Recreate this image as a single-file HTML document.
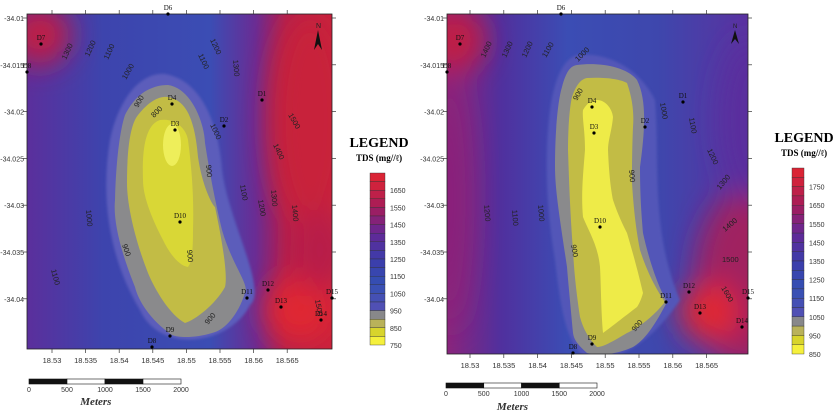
<!DOCTYPE html>
<html><head><meta charset="utf-8"><style>
html,body{margin:0;padding:0;background:#fff;}
svg{display:block;font-family:"Liberation Sans",sans-serif;}
.ser{font-family:"Liberation Serif",serif;}
</style></head><body>
<svg id="root" width="833" height="412" viewBox="0 0 833 412">
<defs>
<filter id="bl" x="-50%" y="-50%" width="200%" height="200%"><feGaussianBlur stdDeviation="14"/></filter>
<filter id="bs" x="-50%" y="-50%" width="200%" height="200%"><feGaussianBlur stdDeviation="1.2"/></filter>
<clipPath id="cl"><rect x="27" y="14" width="305" height="335"/></clipPath>
<clipPath id="cr"><rect x="447" y="14" width="301" height="340"/></clipPath>
<linearGradient id="gl" x1="0" x2="1" y1="0" y2="0">
<stop offset="0" stop-color="#5b2f9c"/><stop offset="0.25" stop-color="#3d44ad"/><stop offset="0.6" stop-color="#3b4db4"/><stop offset="0.75" stop-color="#6a2c94"/><stop offset="0.85" stop-color="#b01f4e"/><stop offset="1" stop-color="#c8203c"/>
</linearGradient>
<linearGradient id="gr" x1="0" x2="1" y1="0" y2="0">
<stop offset="0" stop-color="#8a257c"/><stop offset="0.18" stop-color="#50309e"/><stop offset="0.4" stop-color="#3b4db4"/><stop offset="0.7" stop-color="#3e47ad"/><stop offset="1" stop-color="#5a32a0"/>
</linearGradient>
</defs>

<g>
<g clip-path="url(#cl)">
<rect x="27" y="14" width="305" height="335" fill="url(#gl)"/>
<g filter="url(#bl)">
<ellipse cx="40" cy="35" rx="30" ry="30" fill="#c01f45"/>
<ellipse cx="310" cy="120" rx="40" ry="110" fill="#c8203a"/>
<ellipse cx="300" cy="310" rx="35" ry="35" fill="#e02530"/>
<ellipse cx="320" cy="250" rx="30" ry="40" fill="#b81f48"/>
</g>
<path d="M165,74 C200,80 218,120 222,170 C228,220 268,290 250,305 C230,345 160,355 140,310 C110,260 100,200 110,140 C118,100 140,72 165,74Z" fill="#5c5dbb" filter="url(#bs)"/>
<path d="M168,85 C190,88 204,120 205,143 C210,175 215,200 222,230 C232,265 250,285 245,293 C238,315 225,330 212,333 C195,338 180,338 172,335 C150,320 138,300 135,287 C120,250 113,220 115,200 C116,160 120,130 125,115 C135,95 150,85 168,85Z" fill="#8a8a8c"/>
<path d="M168,97 C182,100 194,110 198,157 C202,185 212,205 215,207 C222,240 228,275 225,287 C215,305 195,320 185,323 C170,315 155,290 148,273 C135,240 127,205 127,183 C127,150 130,125 138,115 C150,100 160,96 168,97Z" fill="#c2bc45"/>
<path d="M160,120 C175,118 186,128 188,140 C192,170 194,200 193,230 C193,250 192,262 188,267 C180,266 170,255 163,240 C150,215 143,195 143,180 C142,150 145,125 160,120Z" fill="#d9d736"/>
<ellipse cx="172" cy="145" rx="9" ry="21" fill="#eeee5a"/>
</g>
<rect x="27" y="14" width="305" height="335" fill="none" stroke="#222" stroke-width="0.8"/>
<g id="lticks"></g>
<g font-size="7.5" fill="#222">
<text transform="translate(66,60) rotate(-65)">1300</text>
<text transform="translate(89,57) rotate(-65)">1200</text>
<text transform="translate(108,60) rotate(-65)">1100</text>
<text transform="translate(126,80) rotate(-60)">1000</text>
<text transform="translate(138,108) rotate(-60)">900</text>
<text transform="translate(154,118) rotate(-45)">800</text>
<text transform="translate(210,40) rotate(65)">1200</text>
<text transform="translate(198,55) rotate(65)">1100</text>
<text transform="translate(233,60) rotate(85)">1300</text>
<text transform="translate(210,125) rotate(65)">1000</text>
<text transform="translate(206,165) rotate(85)">900</text>
<text transform="translate(288,115) rotate(60)">1500</text>
<text transform="translate(273,145) rotate(65)">1400</text>
<text transform="translate(240,185) rotate(80)">1100</text>
<text transform="translate(258,200) rotate(80)">1200</text>
<text transform="translate(271,190) rotate(85)">1300</text>
<text transform="translate(292,205) rotate(85)">1400</text>
<text transform="translate(187,250) rotate(85)">900</text>
<text transform="translate(86,210) rotate(85)">1000</text>
<text transform="translate(122,245) rotate(70)">900</text>
<text transform="translate(51,270) rotate(75)">1100</text>
<text transform="translate(208,325) rotate(-50)">900</text>
<text transform="translate(315,300) rotate(80)">1500</text>
</g>
<g><text x="316" y="28" font-size="7" fill="#222">N</text><path d="M318,30 L314,50 L318,44 L322,50Z" fill="#111"/></g>
</g>

<g>
<g clip-path="url(#cr)">
<rect x="447" y="14" width="301" height="340" fill="url(#gr)"/>
<g filter="url(#bl)">
<ellipse cx="455" cy="40" rx="30" ry="32" fill="#c01f45"/>
<ellipse cx="450" cy="200" rx="20" ry="130" fill="#8a237a"/>
<ellipse cx="745" cy="280" rx="50" ry="90" fill="#a02060"/>
<ellipse cx="710" cy="312" rx="30" ry="30" fill="#e02530"/>
<ellipse cx="750" cy="120" rx="30" ry="80" fill="#5a2f9e"/>
</g>
<path d="M577,55 C610,52 640,70 655,100 C660,160 650,230 680,300 C660,330 630,360 590,360 C565,350 560,300 555,260 C545,200 545,150 550,110 C555,75 565,58 577,55Z" fill="#5257b8" filter="url(#bs)"/>
<path d="M577,65 C600,62 627,67 637,80 C647,100 645,130 640,167 C640,200 642,220 643,233 C650,265 660,290 667,302 C655,325 645,340 633,347 C615,355 598,356 587,353 C578,345 574,340 573,333 C570,300 568,280 567,267 C560,220 555,190 555,167 C555,130 558,100 562,87 C566,72 570,66 577,65Z" fill="#8a8a8c"/>
<path d="M587,78 C605,77 620,79 627,83 C633,100 634,115 633,127 C632,150 632,170 632,183 C634,215 637,235 640,250 C648,275 658,292 665,302 C652,318 638,328 627,333 C612,342 603,347 597,347 C588,338 583,328 580,317 C576,290 574,270 573,250 C570,210 569,180 568,150 C568,125 570,105 572,97 C576,85 581,79 587,78Z" fill="#c2bc45"/>
<path d="M583,110 C588,102 592,100 597,100 C605,100 612,108 613,117 C612,130 608,140 608,150 C609,175 611,190 613,200 C618,215 623,225 627,233 C635,260 640,280 643,293 C641,300 639,304 637,307 C620,320 610,328 603,333 C601,310 601,285 600,267 C598,245 588,230 583,217 C581,195 583,175 585,150 C585,130 582,118 583,110Z" fill="#eeeb48"/>
</g>
<rect x="447" y="14" width="301" height="340" fill="none" stroke="#222" stroke-width="0.8"/>
<g id="rticks"></g>
<g font-size="7.5" fill="#222">
<text transform="translate(485,58) rotate(-65)">1400</text>
<text transform="translate(506,58) rotate(-65)">1300</text>
<text transform="translate(526,58) rotate(-65)">1200</text>
<text transform="translate(546,58) rotate(-60)">1100</text>
<text transform="translate(578,62) rotate(-45)">1000</text>
<text transform="translate(577,101) rotate(-60)">900</text>
<text transform="translate(660,103) rotate(80)">1000</text>
<text transform="translate(689,118) rotate(80)">1100</text>
<text transform="translate(707,150) rotate(65)">1200</text>
<text transform="translate(720,190) rotate(-50)">1300</text>
<text transform="translate(725,232) rotate(-40)">1400</text>
<text transform="translate(722,262)">1500</text>
<text transform="translate(721,288) rotate(60)">1600</text>
<text transform="translate(629,170) rotate(85)">900</text>
<text transform="translate(538,205) rotate(85)">1000</text>
<text transform="translate(512,210) rotate(85)">1100</text>
<text transform="translate(484,205) rotate(85)">1200</text>
<text transform="translate(571,245) rotate(80)">900</text>
<text transform="translate(635,332) rotate(-50)">900</text>
</g>
<g><text x="733" y="28" font-size="6" fill="#222">N</text><path d="M735,30 L731,44 L735,39 L739,44Z" fill="#111"/></g>
</g>

<g id="wells"></g>
<g id="legends"></g>
<g id="scales"></g>
</svg>
<script>
const NS='http://www.w3.org/2000/svg';
const xTicks=[18.53,18.535,18.54,18.545,18.55,18.555,18.56,18.565];
const xTickLabels=['18.53','18.535','18.54','18.545','18.55','18.555','18.56','18.565'];
const yTicks=[-34.01,-34.015,-34.02,-34.025,-34.03,-34.035,-34.04];
const yTickLabels=['-34.01','-34.015','-34.02','-34.025','-34.03','-34.035','-34.04'];
const wellNames=['D7','D6','D8','D4','D3','D1','D2','D10','D12','D11','D13','D15','D14','D9','D8'];
const leftWellX=[41,168,27,172,175,262,224,180,268,247,281,332,321,170,152];
const leftWellY=[44,14,72,104,130,100,126,222,290,298,307,298,320,336,347];
const rightWellX=[460,561,447,592,594,683,645,600,689,666,700,748,742,592,573];
const rightWellY=[44,14,72,107,133,102,127,227,292,302,313,298,327,344,353];
const leftLevels=[1700,1650,1600,1550,1500,1450,1400,1350,1300,1250,1200,1150,1100,1050,1000,950,900,850,800,750];
const leftLegendLabels=[1650,1550,1450,1350,1250,1150,1050,950,850,750];
const rightLevels=[1800,1750,1700,1650,1600,1550,1500,1450,1400,1350,1300,1250,1200,1150,1100,1050,1000,950,900,850];
const rightLegendLabels=[1750,1650,1550,1450,1350,1250,1150,1050,950,850];
const scaleLabels=[0,500,1000,1500,2000];

function mk(tag,attrs,parent){const e=document.createElementNS(NS,tag);for(const k in attrs)e.setAttribute(k,attrs[k]);parent.appendChild(e);return e;}
function axes(gid,fx,x0,y0,x1,y1,stepX,stepY){
 const g=document.getElementById(gid);
 const sx=v=>x0+(v-18.53)/0.005*stepX;
 const sy=v=>y0+(-34.01-v)/0.005*stepY;
 xTicks.forEach((v,i)=>{const x=sx(v);
  const t=mk('line',{x1:x,x2:x,y1:y1,y2:y1+4,stroke:'#333','stroke-width':0.7},g);
  
  mk('line',{x1:x,x2:x,y1:14,y2:10,stroke:'#333','stroke-width':0.7},g);
  const l=mk('text',{x:x,y:y1+14,'font-size':7.5,'text-anchor':'middle',fill:'#333'},g);l.textContent=xTickLabels[i];
  });
 yTicks.forEach((v,i)=>{const y=sy(v);
  mk('line',{x1:fx-4,x2:fx,y1:y,y2:y,stroke:'#333','stroke-width':0.7},g);
  mk('line',{x1:x1,x2:x1+4,y1:y,y2:y,stroke:'#333','stroke-width':0.7},g);
  const l=mk('text',{x:fx-3,y:y+3,'font-size':7,'text-anchor':'end',fill:'#333'},g);l.textContent=yTickLabels[i];
  });
}
axes('lticks',27,52,18,332,349,33.6,46.8);
axes('rticks',447,470,18,748,354,33.8,46.8);

const wg=document.getElementById('wells');
function wells(xs,ys){xs.forEach((x,i)=>{const y=ys[i];
 const c=mk('circle',{cx:x,cy:y,r:1.6,fill:'#000'},wg);
 
 const t=mk('text',{x:x,y:y-4,'font-size':7,'text-anchor':'middle',fill:'#111',class:'ser'},wg);t.textContent=wellNames[i];
 });}
wells(leftWellX,leftWellY);wells(rightWellX,rightWellY);

function col(v){
 const stops=[[725,[245,240,60]],[775,[216,212,44]],[825,[185,178,90]],[875,[136,136,138]],[925,[80,80,180]],[1050,[52,80,180]],[1200,[60,60,170]],[1350,[100,40,150]],[1500,[165,28,90]],[1650,[215,35,55]],[1800,[235,40,40]]];
 for(let i=0;i<stops.length-1;i++){const a=stops[i],b=stops[i+1];if(v<=b[0]){const t=Math.max(0,(v-a[0])/(b[0]-a[0]));return 'rgb('+a[1].map((c,j)=>Math.round(c+(b[1][j]-c)*t)).join(',')+')';}}
 return 'rgb(235,40,40)';}
const lg=document.getElementById('legends');
function legend(x,y0,y1,w,levels,labels,tx,ty,name,shift){
 const g=mk('g',{},lg);
 const h=(y1-y0)/levels.length;
 levels.forEach((v,i)=>{const r=mk('rect',{x:x,y:y0+i*h,width:w,height:h,fill:col(v-25-shift),stroke:'#333','stroke-width':0.4},g);
  });
 labels.forEach(v=>{const i=levels.indexOf(v);const t=mk('text',{x:x+w+5,y:y0+(i+1)*h+3,'font-size':7,fill:'#333'},g);t.textContent=v;
  });
 const a=mk('text',{x:tx,y:ty,'font-size':14,'font-weight':'bold','text-anchor':'middle',class:'ser'},g);a.textContent='LEGEND';
 
 const b=mk('text',{x:tx,y:ty+14,'font-size':9,'font-weight':'bold','text-anchor':'middle',class:'ser'},g);b.textContent='TDS (mg//ℓ)';
 }
legend(370,173,345,15,leftLevels,leftLegendLabels,379,147,'left-legend',0);
legend(792,168,354,12,rightLevels,rightLegendLabels,804,142,'right-legend',100);

const sg=document.getElementById('scales');
function scale(x0,w,y,name,my){
 const g=mk('g',{},sg);
 const seg=w/4;
 for(let i=0;i<4;i++){mk('rect',{x:x0+i*seg,y:y,width:seg,height:5,fill:i%2?'#fff':'#111',stroke:'#111','stroke-width':0.6},g);}
 scaleLabels.forEach((v,i)=>{const t=mk('text',{x:x0+i*seg,y:y+13,'font-size':7,'text-anchor':'middle',fill:'#333'},g);t.textContent=v;});
 const m=mk('text',{x:x0+w*0.44,y:my,'font-size':11,'font-style':'italic','font-weight':'bold','text-anchor':'middle',class:'ser',fill:'#333'},g);m.textContent='Meters';
}
scale(29,152,379,'left-scale-bar',405);
scale(446,151,383,'right-scale-bar',410);
</script>
</body></html>
